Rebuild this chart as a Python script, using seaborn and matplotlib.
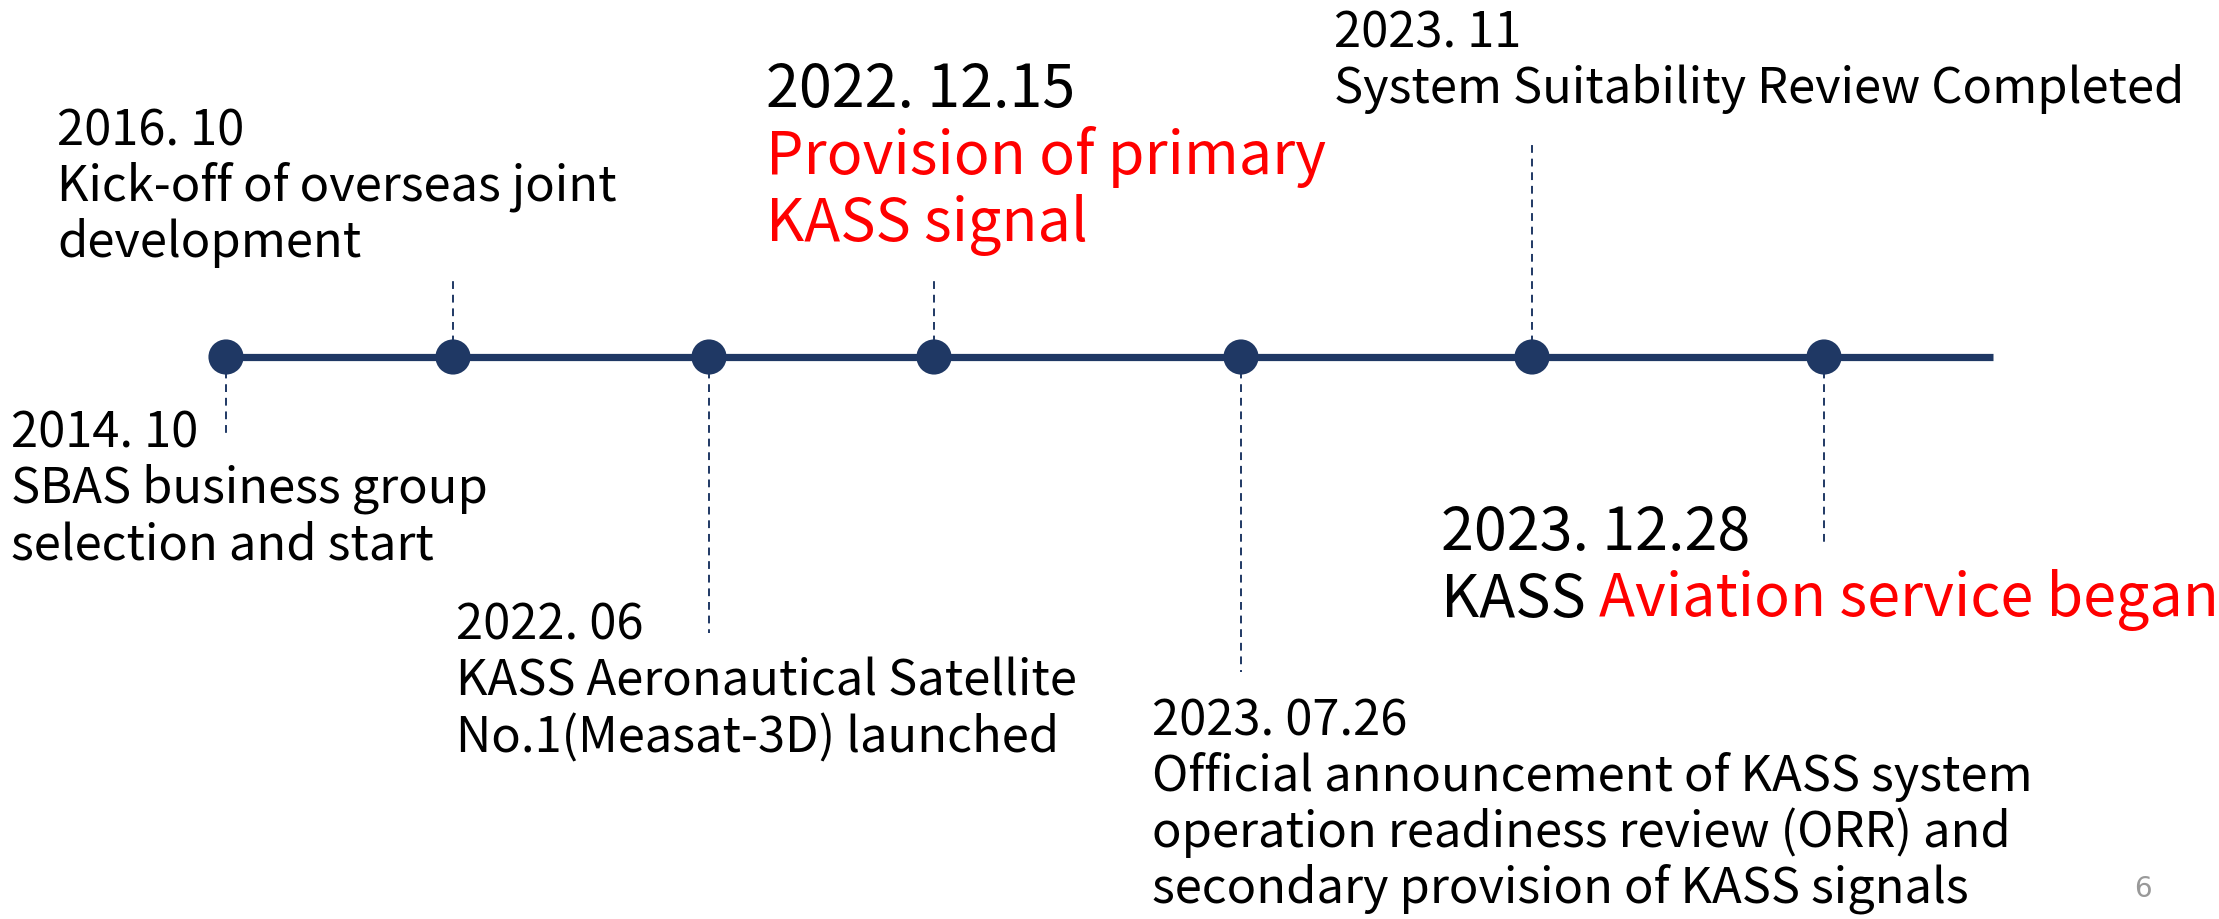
# KASS timeline

import matplotlib.pyplot as plt
import seaborn as sns


# DATA

dates = [
    "2014. 10",
    "2016. 10",
    "2022. 06",
    "2022. 12.15",
    "2023. 07.26",
    "2023. 11",
    "2023. 12.28",
]

descriptions = [
    ["SBAS business group", "selection and start"],
    ["Kick-off of overseas joint", "development"],
    ["KASS Aeronautical Satellite", "No.1(Measat-3D) launched"],
    ["Provision of primary", "KASS signal"],
    ["Official announcement of KASS system",
     "operation readiness review (ORR) and",
     "secondary provision of KASS signals"],
    ["System Suitability Review Completed"],
    ["KASS Aviation service began"],
]

# phrases shown in red, per milestone
red_phrases = [
    [],
    [],
    [],
    ["Provision of primary", "KASS signal"],
    [],
    [],
    ["Aviation service began"],
]

# milestones written bigger
big_events = [False, False, False, True, False, False, True]

page_number = "6"


# LAYOUT (pixel coordinates, y goes down)

W, H = 2219, 919
slot_x = [226, 453, 709, 934, 1241, 1532, 1824]
line_y = 357
line_end = 1993
stem_end = [437, 277, 633, 277, 672, 143, 543]
text_x = [11, 57, 456, 766, 1152, 1334, 1441]
text_y = [447, 145, 640, 107, 735, 47, 550]

navy = "#1F3864"
red = "#FF0000"

small_size = 35.2
big_size = 42.6
small_step = 56
big_step = 67


# FIGURE

sns.set_theme(style="white")
plt.rcParams['font.family'] = ['Noto Sans CJK KR', 'DejaVu Sans']

fig = plt.figure(figsize=(W / 100, H / 100), dpi=100)
ax = fig.add_axes([0, 0, 1, 1])
ax.set_xlim(0, W)
ax.set_ylim(H, 0)
ax.set_axis_off()

# main line
ax.hlines(line_y, slot_x[0], line_end, color=navy, lw=5.2, zorder=2)

# dashed stems
ax.vlines(slot_x, [line_y] * len(slot_x), stem_end,
          color=navy, lw=1.4, linestyles=(0, (4, 3)), zorder=1)

# markers
sns.scatterplot(x=slot_x, y=[line_y] * len(slot_x), s=640,
                color=navy, edgecolor="none", zorder=3, ax=ax)


def split_red(line, phrases):
    for p in phrases:
        if p in line:
            before, after = line.split(p, 1)
            return [(before, "black"), (p, red), (after, "black")]
    return [(line, "black")]


def draw_line(x, y, line, phrases, size):
    prev = None
    for seg, col in split_red(line, phrases):
        if seg == "":
            continue
        if prev is None:
            prev = ax.text(x, y, seg, fontsize=size, color=col,
                           ha="left", va="baseline")
        else:
            prev = ax.annotate(seg, xy=(1, 0), xycoords=prev,
                               fontsize=size, color=col,
                               ha="left", va="bottom")


for i in range(len(dates)):
    size = big_size if big_events[i] else small_size
    step = big_step if big_events[i] else small_step
    lines = [dates[i]] + descriptions[i]
    for k, line in enumerate(lines):
        draw_line(text_x[i], text_y[i] + k * step, line, red_phrases[i], size)

# page number
ax.text(2134, 897, page_number, fontsize=20, color="#999999",
        family="DejaVu Sans", ha="left", va="baseline")

fig.savefig("out.png", dpi=100)
plt.close()
